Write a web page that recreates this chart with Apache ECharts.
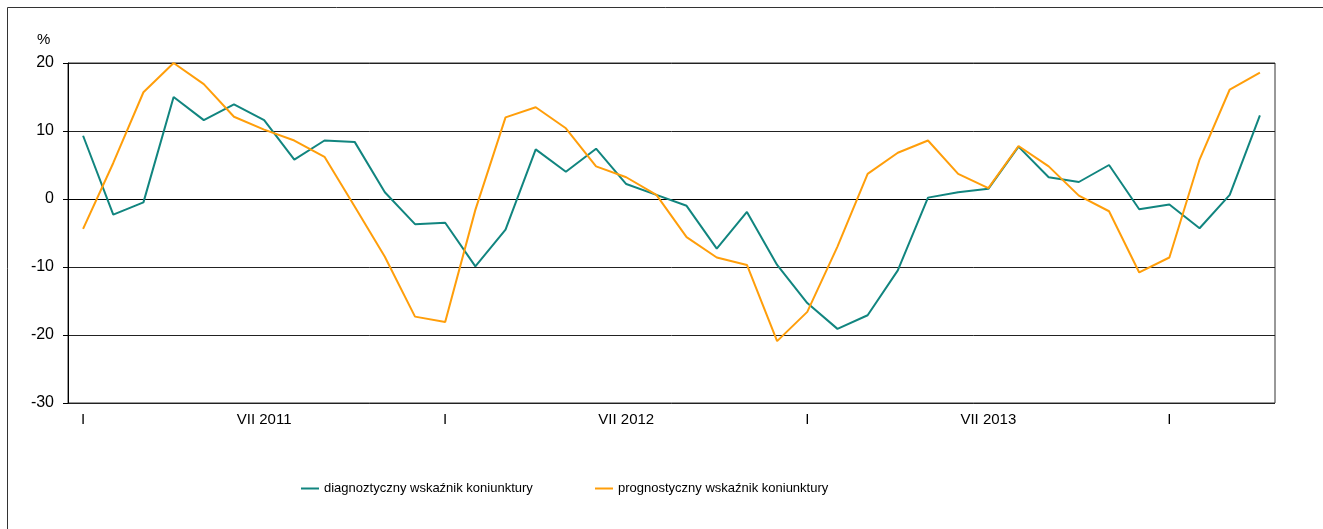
<!DOCTYPE html>
<html>
<head>
<meta charset="utf-8">
<script src="https://cdn.jsdelivr.net/npm/echarts@6/dist/echarts.min.js"></script>
<style>
  html, body { margin: 0; padding: 0; background: #fff; }
  #chart { width: 1323px; height: 529px; }
</style>
</head>
<body>
<div id="chart"></div>
<script>
  // miesiace I 2011 - IV 2014
  var months = ['I', 'II', 'III', 'IV', 'V', 'VI', 'VII', 'VIII', 'IX', 'X', 'XI', 'XII'];
  var years = [2011, 2012, 2013, 2014];
  var monthCount = 40;

  var diagnostic = [9.3, -2.3, -0.5, 15.0, 11.6, 13.9, 11.6, 5.8, 8.6, 8.4,
    1.0, -3.7, -3.5, -9.9, -4.5, 7.3, 4.0, 7.4, 2.2, 0.6,
    -1.0, -7.3, -1.9, -9.7, -15.3, -19.1, -17.1, -10.5, 0.2, 1.0,
    1.5, 7.7, 3.2, 2.5, 5.0, -1.5, -0.8, -4.3, 0.6, 12.3];
  var prognostic = [-4.4, 5.3, 15.7, 20.0, 16.9, 12.1, 10.2, 8.6, 6.2, -1.1,
    -8.5, -17.3, -18.1, -1.6, 12.0, 13.5, 10.4, 4.8, 3.2, 0.6,
    -5.6, -8.6, -9.7, -20.9, -16.6, -7.0, 3.7, 6.8, 8.6, 3.7,
    1.6, 7.8, 4.8, 0.5, -1.8, -10.8, -8.6, 5.8, 16.1, 18.6];

  var seriesNames = ['diagnoztyczny wskaźnik koniunktury', 'prognostyczny wskaźnik koniunktury'];

  var categories = [];
  for (var i = 0; i < monthCount; i++) {
    var m = months[i % 12];
    var y = years[Math.floor(i / 12)];
    categories.push(m === 'I' ? 'I' : m + ' ' + y);
  }

  var font = "'Liberation Sans', Arial, sans-serif";
  var legendBase = {
    top: 477,
    itemWidth: 18,
    itemHeight: 2,
    icon: 'rect',
    textStyle: { fontFamily: font, fontSize: 13, color: '#000' }
  };

  var chart = echarts.init(document.getElementById('chart'));
  var option = {
    animation: false,
    backgroundColor: '#fff',
    textStyle: { fontFamily: font },
    graphic: [{
      type: 'rect',
      shape: { x: 7.5, y: 7.5, width: 1400, height: 600 },
      style: { fill: 'none', stroke: '#333', lineWidth: 1 },
      silent: true
    }, {
      type: 'text',
      left: 37,
      top: 32,
      style: { text: '%', font: "15px 'Liberation Sans', Arial, sans-serif", fill: '#000' }
    }],
    grid: {
      left: 68,
      right: 48,
      top: 63,
      bottom: 126,
      show: true,
      borderColor: '#333',
      borderWidth: 1
    },
    legend: [
      Object.assign({ left: 296, data: [seriesNames[0]] }, legendBase),
      Object.assign({ left: 590, data: [seriesNames[1]] }, legendBase)
    ],
    xAxis: {
      type: 'category',
      boundaryGap: true,
      data: categories,
      axisLine: { lineStyle: { color: '#000', width: 1 } },
      axisTick: { interval: 0, length: 4, lineStyle: { color: '#000' } },
      axisLabel: {
        interval: 5,
        margin: 9,
        color: '#000',
        fontSize: 15
      },
      splitLine: { show: false }
    },
    yAxis: {
      type: 'value',
      min: -30,
      max: 20,
      interval: 10,
      axisLine: { show: true, lineStyle: { color: '#000', width: 1 } },
      axisTick: { show: true, length: 5, lineStyle: { color: '#000' } },
      axisLabel: { color: '#000', fontSize: 16, margin: 14 },
      splitLine: { lineStyle: { color: '#222', width: 1 } }
    },
    series: [{
      name: seriesNames[0],
      type: 'line',
      data: diagnostic,
      showSymbol: false,
      color: '#11857F',
      lineStyle: { width: 2, color: '#11857F' }
    }, {
      name: seriesNames[1],
      type: 'line',
      data: prognostic,
      showSymbol: false,
      color: '#FF9E0A',
      lineStyle: { width: 2, color: '#FF9E0A' }
    }]
  };
  chart.setOption(option);
</script>
</body>
</html>
